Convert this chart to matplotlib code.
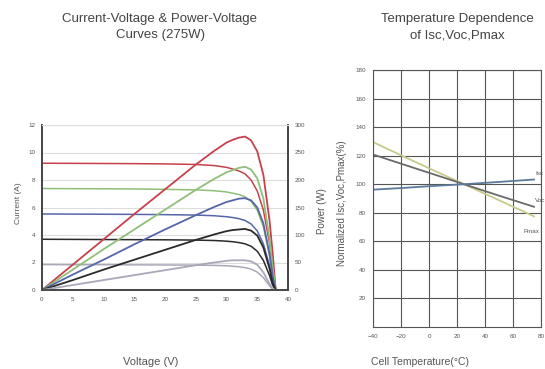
#!/usr/bin/env python3
"""
Module datasheet charts: I-V / P-V curves and temperature dependence.
"""

import matplotlib
matplotlib.use('Agg')
import matplotlib.pyplot as plt

plt.rcParams['font.family'] = ['Liberation Sans', 'DejaVu Sans']

# ---- I-V / P-V data ----
voltage = [0, 5, 10, 15, 20, 25, 28, 30, 31, 32, 33, 34, 35, 36, 37, 37.5, 38]

current_1000 = [9.22, 9.21, 9.20, 9.19, 9.17, 9.13, 9.05, 8.92, 8.80, 8.66, 8.45, 8.00, 7.20, 5.80, 3.40, 1.80, 0.0]
current_800 = [7.38, 7.37, 7.36, 7.35, 7.32, 7.28, 7.22, 7.13, 7.04, 6.95, 6.78, 6.45, 5.80, 4.60, 2.50, 1.10, 0.0]
current_600 = [5.53, 5.52, 5.51, 5.50, 5.48, 5.45, 5.40, 5.33, 5.27, 5.19, 5.06, 4.80, 4.30, 3.35, 1.75, 0.70, 0.0]
current_400 = [3.69, 3.68, 3.67, 3.66, 3.65, 3.63, 3.60, 3.55, 3.51, 3.45, 3.36, 3.18, 2.82, 2.15, 1.05, 0.35, 0.0]
current_200 = [1.85, 1.84, 1.84, 1.83, 1.82, 1.81, 1.79, 1.76, 1.73, 1.69, 1.63, 1.52, 1.30, 0.90, 0.30, 0.05, 0.0]

power_1000 = [0, 46, 92, 138, 183, 228, 253, 268, 273, 277, 279, 272, 252, 209, 126, 68, 0]
power_800 = [0, 37, 74, 110, 146, 182, 202, 214, 218, 222, 224, 219, 203, 166, 93, 41, 0]
power_600 = [0, 28, 55, 83, 110, 136, 151, 160, 163, 166, 167, 163, 150, 121, 65, 26, 0]
power_400 = [0, 18, 37, 55, 73, 91, 101, 107, 109, 110, 111, 108, 99, 77, 39, 13, 0]
power_200 = [0, 9, 18, 27, 36, 45, 50, 53, 54, 54, 54, 52, 46, 32, 11, 2, 0]

iv_colors = ['#c8404c', '#8fbf78', '#5566a8', '#2a2a2a', '#a8a8b8']

# ---- temperature dependence data ----
temperature = [-40, -20, 0, 25, 50, 75]
isc_pct = [96.2, 97.3, 98.6, 100, 101.6, 103.3]
voc_pct = [120.8, 114.4, 108.0, 100, 92.0, 84.2]
pmax_pct = [129.5, 120.3, 111.2, 100, 88.8, 77.5]

W, H = 545, 369
fig = plt.figure(figsize=(W / 100, H / 100), dpi=100)


def fx(px):
    return px / W


def fy(py):
    return 1 - py / H


txt = '#555555'

# ================= left chart =================
ax1 = fig.add_axes([fx(42), fy(290), fx(288) - fx(42), fy(125) - fy(290)])
ax2 = ax1.twinx()

currents = [current_1000, current_800, current_600, current_400, current_200]
powers = [power_1000, power_800, power_600, power_400, power_200]
for cur, pw, col in zip(currents, powers, iv_colors):
    ax1.plot(voltage, cur, color=col, linewidth=1.1)
    ax2.plot(voltage, pw, color=col, linewidth=1.3)

ax1.set_xlim(0, 40)
ax1.set_ylim(0, 12)
ax2.set_ylim(0, 300)
ax1.set_xticks(range(0, 41, 5))
ax1.set_yticks(range(0, 13, 2))
ax2.set_yticks(range(0, 301, 50))
ax1.grid(axis='y', color='#dddddd', linewidth=0.8)
ax1.set_axisbelow(True)

for a in (ax1, ax2):
    a.tick_params(labelsize=4.5, colors=txt, length=0, pad=5)
    for side in ('left', 'right', 'bottom'):
        a.spines[side].set_color('#444444')
        a.spines[side].set_linewidth(1.2)
    a.spines['top'].set_color('#dddddd')

fig.text(fx(18), fy(203), 'Current (A)', rotation=90, ha='center', va='center',
         fontsize=6, color=txt)
fig.text(fx(322), fy(211), 'Power (W)', rotation=90, ha='center', va='center',
         fontsize=7, color=txt)
fig.text(fx(151), fy(362), 'Voltage (V)', ha='center', va='center',
         fontsize=8, color=txt)
fig.text(fx(160), fy(27), 'Current-Voltage & Power-Voltage\nCurves (275W)',
         ha='center', va='center', fontsize=9.5, color='#444444', linespacing=1.5)

# ================= right chart =================
ax3 = fig.add_axes([fx(373), fy(327), fx(541) - fx(373), fy(70) - fy(327)])
ax3.plot(temperature, pmax_pct, color='#c9c98a', linewidth=1.3)
ax3.plot(temperature, voc_pct, color='#6a6a6a', linewidth=1.3)
ax3.plot(temperature, isc_pct, color='#5b7a9c', linewidth=1.3)

ax3.text(temperature[-1] + 1, isc_pct[-1] + 3, 'Isc', fontsize=4.5, color=txt)
ax3.text(temperature[-1] + 1, voc_pct[-1] + 3, 'Voc', fontsize=4.5, color=txt)
ax3.text(79, pmax_pct[-1] - 12, 'Pmax', fontsize=4.5, color=txt, ha='right')

ax3.set_xlim(-40, 80)
ax3.set_ylim(0, 180)
ax3.set_xticks(range(-40, 81, 20))
ax3.set_yticks(range(20, 181, 20))
ax3.grid(True, color='#555555', linewidth=0.8)
ax3.tick_params(labelsize=4.5, colors=txt, length=0, pad=5)
for s in ax3.spines.values():
    s.set_color('#555555')
    s.set_linewidth(0.8)

fig.text(fx(342), fy(203), 'Normalized Isc,Voc,Pmax(%)', rotation=90, ha='center',
         va='center', fontsize=7, color=txt)
fig.text(fx(420), fy(362), 'Cell Temperature(°C)', ha='center', va='center',
         fontsize=7.5, color=txt)
fig.text(fx(457), fy(27), 'Temperature Dependence\nof Isc,Voc,Pmax',
         ha='center', va='center', fontsize=9.5, color='#444444', linespacing=1.5)

fig.savefig('out.png', dpi=100)
